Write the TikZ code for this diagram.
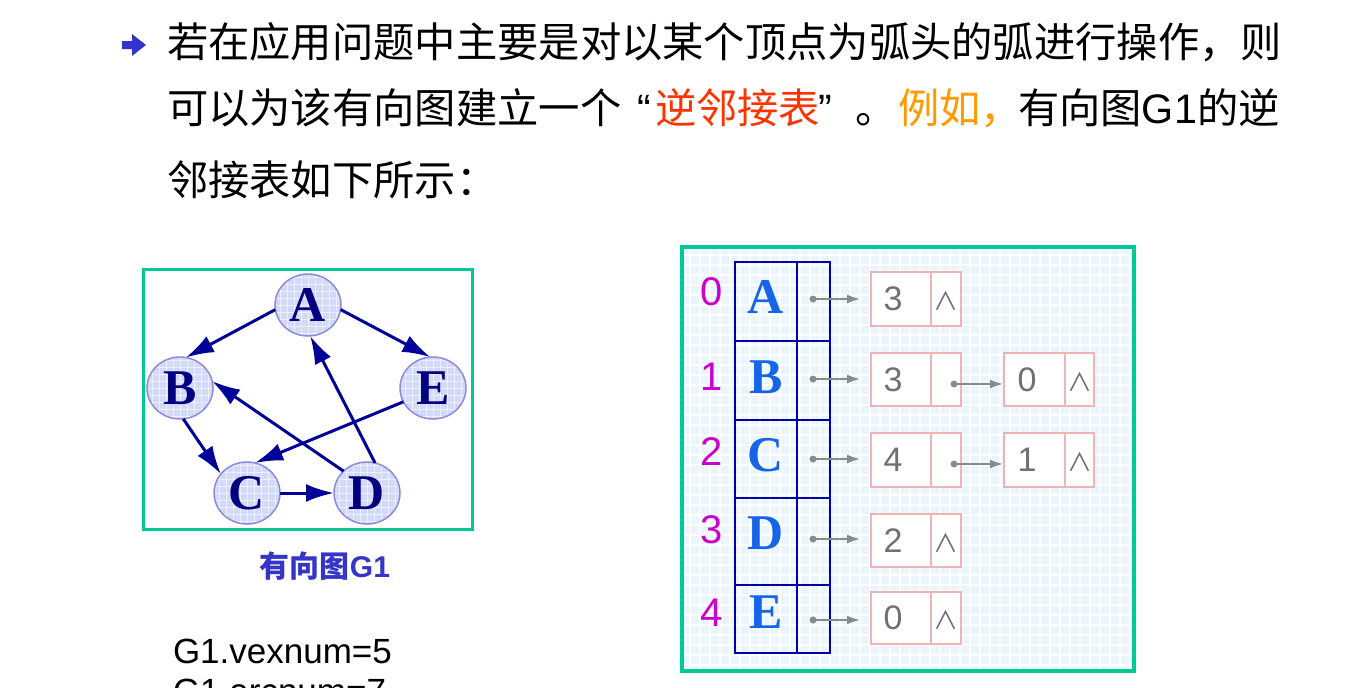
\documentclass[tikz,border=0pt]{standalone}
\usepackage{fontspec}
\setmainfont{Liberation Serif}
\newfontfamily\cjk{Noto Sans CJK SC}
\newfontfamily\arial{Liberation Sans}
\usetikzlibrary{arrows.meta,shapes.geometric}
\definecolor{cGreen}{HTML}{00C896}
\definecolor{cBullet}{HTML}{3333CC}
\definecolor{cRed}{HTML}{FF3300}
\definecolor{cOrange}{HTML}{FF9900}
\definecolor{cNavy}{HTML}{000099}
\definecolor{cNodeFill}{HTML}{D3D9F8}
\definecolor{cNodeLine}{HTML}{8C8CDC}
\definecolor{cNodeText}{HTML}{000080}
\definecolor{cCap}{HTML}{3535C8}
\definecolor{cGridBg}{HTML}{EAF5FD}
\definecolor{cTable}{HTML}{0000AA}
\definecolor{cLetter}{HTML}{1565E8}
\definecolor{cIdx}{HTML}{CC00CC}
\definecolor{cPink}{HTML}{F0B4B4}
\definecolor{cGray}{HTML}{707070}
\definecolor{cPtr}{HTML}{8A8A8A}
\newcommand\mytxt{\cjk\fontsize{41.3}{41.3}\selectfont}
\begin{document}
\begin{tikzpicture}[x=1pt,y=-1pt,
  every node/.style={inner sep=0pt, outer sep=0pt},
  gv/.style={ellipse, draw=cNodeLine, line width=1.5pt, fill=cNodeFill,
    minimum width=66pt, minimum height=62pt, text=cNodeText,
    font=\fontsize{50}{50}\selectfont\bfseries,
    path picture={
      \foreach \k in {-35,-28,...,35}{
        \draw[white, opacity=0.6, line width=0.8pt]
          ([xshift=\k pt]path picture bounding box.center) ++(0,-40) -- ++(0,80);
        \draw[white, opacity=0.6, line width=0.8pt]
          ([yshift=\k pt]path picture bounding box.center) ++(-40,0) -- ++(80,0);
      }}},
  garcst/.style={draw=cNavy, line width=3pt, -{Latex[length=28pt,width=18pt]}},
  vcell/.style={draw=cTable, line width=2pt, rectangle},
  lcell/.style={draw=cPink, line width=1.5pt, fill=white, rectangle},
  ptrst/.style={draw=cPtr, line width=1.8pt, -{Latex[length=13pt,width=9pt]}},
  letterst/.style={text=cLetter, font=\fontsize{50}{50}\selectfont\bfseries},
  idxst/.style={text=cIdx, font=\arial\fontsize{40}{40}\selectfont},
  digst/.style={text=cGray, font=\arial\fontsize{34}{34}\selectfont},
  nilst/.style={text=cGray, font=\cjk\fontsize{25}{25}\selectfont},
]
\useasboundingbox (0,0) rectangle (1358,688);
\clip (0,0) rectangle (1358,688);

% bullet
\fill[cBullet] (122,41) -- (132,41) -- (132,34) -- (146,45) -- (132,56) -- (132,49) -- (122,49) -- cycle;

% text
\node[anchor=base west] (t1) at (167,57) {\mytxt 若在应用问题中主要是对以某个顶点为弧头的弧进行操作，则};
\node[anchor=base west] (t2a) at (167,123) {\mytxt 可以为该有向图建立一个};
\node[anchor=base west] (t2b) at (637,123) {\arial\fontsize{41}{41}\selectfont “};
\node[anchor=base west, text=cRed] (t2c) at (655,123) {\mytxt 逆邻接表};
\node[anchor=base west] (t2d) at (818,123) {\arial\fontsize{41}{41}\selectfont ”};
\node[anchor=base west] (t2e) at (855,123) {\mytxt 。};
\node[anchor=base west, text=cOrange] (t2f) at (898,123) {\mytxt 例如，};
\node[anchor=base west] (t2g) at (1018,123) {\mytxt 有向图{\arial G1}的逆};
\node[anchor=base west] (t3) at (167,195) {\mytxt 邻接表如下所示：};

% left box
\draw[cGreen, line width=3pt] (143,269) rectangle (472,529);
\node[gv] (A) at (308,305) {A};
\node[gv] (B) at (180,388) {B};
\node[gv] (E) at (433,388) {E};
\node[gv] (C) at (247,493) {C};
\node[gv] (D) at (367,493) {D};
\draw[garcst] (A.188) -- (B.79);
\draw[garcst] (A.-8) -- (E.95);
\draw[garcst] (B.-84) -- (C.144);
\draw[garcst] (E.205) -- (C.75);
\draw[garcst] (C) -- (D);
\draw[garcst] (D.137) -- (B.12);
\draw[garcst] (D.75) -- (A.-86);

\node[text=cCap] (cap) at (325,566) {\cjk\fontsize{30}{30}\selectfont\bfseries 有向图{\arial\bfseries G1}};
\node[anchor=base west] (vx) at (173,663) {\arial\fontsize{35}{35}\selectfont G1.vexnum=5};
\node[anchor=base west] (ac) at (173,703) {\arial\fontsize{35}{35}\selectfont G1.arcnum=7};

% right panel
\fill[cGridBg] (684,249) rectangle (1132,669);
\foreach \gx in {690,700,...,1130}{
  \draw[white, line width=2pt] (\gx,249) -- (\gx,669);
}
\foreach \gy in {255,265,...,665}{
  \draw[white, line width=2pt] (684,\gy) -- (1132,\gy);
}
\draw[cGreen, line width=3.5pt] (682,247) rectangle (1134,671);

% vertex table
\node[vcell, minimum width=62pt, minimum height=79pt] (vA) at (766,301.5) {};
\node[vcell, minimum width=33pt, minimum height=79pt] (pA) at (813.5,301.5) {};
\node[vcell, minimum width=62pt, minimum height=79pt] (vB) at (766,380.5) {};
\node[vcell, minimum width=33pt, minimum height=79pt] (pB) at (813.5,380.5) {};
\node[vcell, minimum width=62pt, minimum height=78pt] (vC) at (766,459) {};
\node[vcell, minimum width=33pt, minimum height=78pt] (pC) at (813.5,459) {};
\node[vcell, minimum width=62pt, minimum height=87pt] (vD) at (766,541.5) {};
\node[vcell, minimum width=33pt, minimum height=87pt] (pD) at (813.5,541.5) {};
\node[vcell, minimum width=62pt, minimum height=68pt] (vE) at (766,619) {};
\node[vcell, minimum width=33pt, minimum height=68pt] (pE) at (813.5,619) {};

\node[letterst] (lA) at (766,297) {A};
\node[letterst] (lB) at (766,377) {B};
\node[letterst] (lC) at (766,455) {C};
\node[letterst] (lD) at (766,533) {D};
\node[letterst] (lE) at (766,612) {E};

\node[idxst] (i0) at (712,292) {0};
\node[idxst] (i1) at (712,377) {1};
\node[idxst] (i2) at (712,452) {2};
\node[idxst] (i3) at (712,530) {3};
\node[idxst] (i4) at (712,613) {4};

% list nodes, first column
\node[lcell, minimum width=60pt, minimum height=54pt] (nA) at (901,299) {};
\node[lcell, minimum width=30pt, minimum height=54pt] (nAp) at (946,299) {};
\node[lcell, minimum width=60pt, minimum height=53pt] (nB) at (901,379.5) {};
\node[lcell, minimum width=30pt, minimum height=53pt] (nBp) at (946,379.5) {};
\node[lcell, minimum width=60pt, minimum height=54pt] (nC) at (901,460) {};
\node[lcell, minimum width=30pt, minimum height=54pt] (nCp) at (946,460) {};
\node[lcell, minimum width=60pt, minimum height=53pt] (nD) at (901,540.5) {};
\node[lcell, minimum width=30pt, minimum height=53pt] (nDp) at (946,540.5) {};
\node[lcell, minimum width=60pt, minimum height=52pt] (nE) at (901,618) {};
\node[lcell, minimum width=30pt, minimum height=52pt] (nEp) at (946,618) {};
% second column
\node[lcell, minimum width=61pt, minimum height=53pt] (mB) at (1034.5,379.5) {};
\node[lcell, minimum width=29pt, minimum height=53pt] (mBp) at (1079.5,379.5) {};
\node[lcell, minimum width=61pt, minimum height=54pt] (mC) at (1034.5,460) {};
\node[lcell, minimum width=29pt, minimum height=54pt] (mCp) at (1079.5,460) {};

\node[digst] (dgA) at (893,299) {3};
\node[digst] (dgB) at (893,379.5) {3};
\node[digst] (dgC) at (893,460) {4};
\node[digst] (dgD) at (893,540.5) {2};
\node[digst] (dgE) at (893,618) {0};
\node[digst] (dgB2) at (1027,379.5) {0};
\node[digst] (dgC2) at (1027,460) {1};

\node[nilst] (zA) at (946,301) {∧};
\node[nilst] (zD) at (946,542.5) {∧};
\node[nilst] (zE) at (946,620) {∧};
\node[nilst] (zB2) at (1080,381.5) {∧};
\node[nilst] (zC2) at (1080,462) {∧};

% pointers
\coordinate (dA) at (813,299);
\coordinate (dB) at (813,379);
\coordinate (dC) at (813,459);
\coordinate (dD) at (813,539);
\coordinate (dE) at (813,620);
\coordinate (dB2) at (954,384);
\coordinate (dC2) at (954,464);
\foreach \p/\n/\s in {dA/nA/11, dB/nB/11, dC/nC/11, dD/nD/11, dE/nE/11, dB2/mB/1, dC2/mC/1}{
  \draw[ptrst, shorten >=\s pt] (\p) -- (\p -| \n.west);
  \fill[cPtr] (\p) circle (3.5);
}
\end{tikzpicture}
\end{document}
